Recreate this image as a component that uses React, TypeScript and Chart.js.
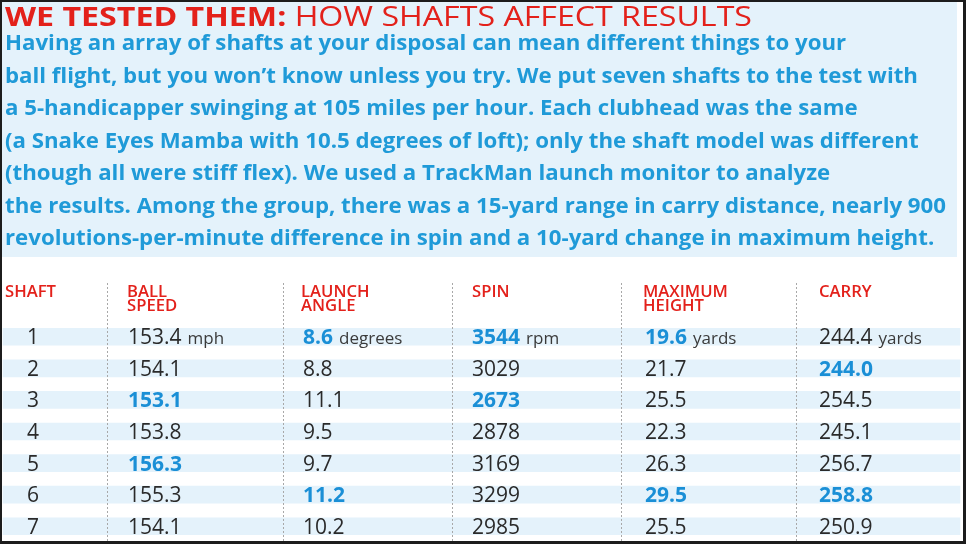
import React, { useEffect, useRef } from 'react';
import { Chart, registerables } from 'chart.js';

Chart.register(...registerables);

// ---------- data ----------
const titleBold = 'WE TESTED THEM:';
const titleRest = 'HOW SHAFTS AFFECT RESULTS';
const introLines = [
  'Having an array of shafts at your disposal can mean different things to your',
  'ball flight, but you won\u2019t know unless you try. We put seven shafts to the test with',
  'a 5-handicapper swinging at 105 miles per hour. Each clubhead was the same',
  '(a Snake Eyes Mamba with 10.5 degrees of loft); only the shaft model was different',
  '(though all were stiff flex). We used a TrackMan launch monitor to analyze',
  'the results. Among the group, there was a 15-yard range in carry distance, nearly 900',
  'revolutions-per-minute difference in spin and a 10-yard change in maximum height.',
];
const headers = [['SHAFT'], ['BALL', 'SPEED'], ['LAUNCH', 'ANGLE'], ['SPIN'], ['MAXIMUM', 'HEIGHT'], ['CARRY']];
const shafts = ['1', '2', '3', '4', '5', '6', '7'];
const ballSpeed = [153.4, 154.1, 153.1, 153.8, 156.3, 155.3, 154.1];
const launchAngle = [8.6, 8.8, 11.1, 9.5, 9.7, 11.2, 10.2];
const spin = [3544, 3029, 2673, 2878, 3169, 3299, 2985];
const maxHeight = [19.6, 21.7, 25.5, 22.3, 26.3, 29.5, 25.5];
const carry = [244.4, 244.0, 254.5, 245.1, 256.7, 258.8, 250.9];
const units = ['mph', 'degrees', 'rpm', 'yards', 'yards'];
const decimals = [1, 1, 0, 1, 1];

// ---------- layout / style ----------
const W = 966;
const H = 544;
const RED = '#e3211b';
const BLUE = '#1f9ad8';
const VAL_BLUE = '#1a8fd6';
const LIGHT = '#e4f2fb';
const TEXT = '#2a2a2a';
const FONT = '"Open Sans", sans-serif';
const headerX = [5, 127, 301, 472, 643, 819];
const valueX = [128, 303, 472, 645, 819];
const shaftCenterX = 33;
const sepX = [107, 283, 452, 621, 796];

function fitText(ctx: CanvasRenderingContext2D, text: string, x: number, y: number, sx: number) {
  ctx.save();
  ctx.translate(x, y);
  ctx.scale(sx, 1);
  ctx.fillText(text, 0, 0);
  ctx.restore();
}

const tablePlugin = {
  id: 'tablePlugin',
  beforeDraw(chart: any) {
    const ctx: CanvasRenderingContext2D = chart.ctx;
    ctx.save();
    ctx.fillStyle = '#ffffff';
    ctx.fillRect(0, 0, W, H);
    ctx.fillStyle = LIGHT;
    ctx.fillRect(2, 1, 955, 256);
    ctx.restore();
  },
  afterDatasetsDraw(chart: any) {
    const ctx: CanvasRenderingContext2D = chart.ctx;
    const xs = chart.scales.x;
    const ys = chart.scales.y;
    ctx.save();
    ctx.textBaseline = 'alphabetic';
    ctx.textAlign = 'left';

    // title
    const boldFont = `700 27px ${FONT}`;
    const regFont = `500 27px ${FONT}`;
    ctx.font = boldFont;
    const wb = ctx.measureText(titleBold + ' ').width;
    ctx.font = regFont;
    const wr = ctx.measureText(titleRest).width;
    const tsx = 747 / (wb + wr);
    ctx.fillStyle = RED;
    ctx.font = boldFont;
    fitText(ctx, titleBold, 5, 26, tsx);
    ctx.font = regFont;
    fitText(ctx, titleRest, 5 + wb * tsx, 26, tsx);

    // intro paragraph
    ctx.font = `700 22px ${FONT}`;
    ctx.fillStyle = BLUE;
    const longest = ctx.measureText(introLines[5]).width;
    const psx = 941 / longest;
    introLines.forEach((line, i) => {
      fitText(ctx, line, 5, 50 + i * 32.5, psx);
    });

    // headers
    ctx.font = `600 17px ${FONT}`;
    ctx.fillStyle = RED;
    headers.forEach((hdr, c) => {
      hdr.forEach((t, k) => {
        fitText(ctx, t, xs.getPixelForValue(headerX[c]), 297 + k * 13.5, 0.98);
      });
    });

    // separators
    ctx.strokeStyle = '#a8a8a8';
    ctx.lineWidth = 1;
    ctx.setLineDash([2, 2]);
    sepX.forEach((sx) => {
      const px = Math.round(xs.getPixelForValue(sx)) + 0.5;
      ctx.beginPath();
      ctx.moveTo(px, 283);
      ctx.lineTo(px, 541);
      ctx.stroke();
    });
    ctx.setLineDash([]);

    // values
    const cols = [ballSpeed, launchAngle, spin, maxHeight, carry];
    shafts.forEach((s, r) => {
      const cy = ys.getPixelForValue(r);
      const base = cy + 7.5;
      ctx.font = `500 21px ${FONT}`;
      ctx.fillStyle = TEXT;
      ctx.textAlign = 'center';
      ctx.fillText(s, xs.getPixelForValue(shaftCenterX), base);
      ctx.textAlign = 'left';
      cols.forEach((col, c) => {
        const v = col[r];
        const mn = Math.min(...col);
        const mx = Math.max(...col);
        const hi = v === mn || v === mx;
        const txt = v.toFixed(decimals[c]);
        ctx.font = hi ? `700 21px ${FONT}` : `500 21px ${FONT}`;
        ctx.fillStyle = hi ? VAL_BLUE : TEXT;
        const x0 = xs.getPixelForValue(valueX[c]);
        ctx.fillText(txt, x0, base);
        if (r === 0) {
          const w = ctx.measureText(txt).width;
          ctx.font = `400 17px ${FONT}`;
          ctx.fillStyle = '#3a3a3a';
          ctx.fillText(units[c], x0 + w + 6, base);
        }
      });
    });

    // frame
    ctx.strokeStyle = '#1c1c1c';
    ctx.lineWidth = 3;
    ctx.strokeRect(0.5, 0.5, W - 2, H - 2);
    ctx.restore();
  },
};

export default function App() {
  const ref = useRef<HTMLCanvasElement | null>(null);
  useEffect(() => {
    document.body.style.margin = '0';
    if (!ref.current) return;
    const chart = new Chart(ref.current, {
      type: 'bar',
      data: {
        labels: shafts,
        datasets: [
          {
            data: shafts.map(() => [3, 960]) as any,
            backgroundColor: LIGHT,
            borderWidth: 0,
            barThickness: 17,
          },
        ],
      },
      options: {
        indexAxis: 'y',
        animation: false,
        responsive: false,
        maintainAspectRatio: false,
        layout: { padding: { top: 321, bottom: 2, left: 0, right: 0 } },
        plugins: { legend: { display: false }, tooltip: { enabled: false }, title: { display: false } },
        scales: {
          x: { type: 'linear', min: 0, max: W, display: false },
          y: { type: 'category', display: false, offset: true },
        },
      },
      plugins: [tablePlugin],
    });
    return () => chart.destroy();
  }, []);
  return (
    <div style={{ width: W, height: H }}>
      <canvas ref={ref} width={W} height={H} style={{ width: W, height: H, display: 'block' }} />
    </div>
  );
}
